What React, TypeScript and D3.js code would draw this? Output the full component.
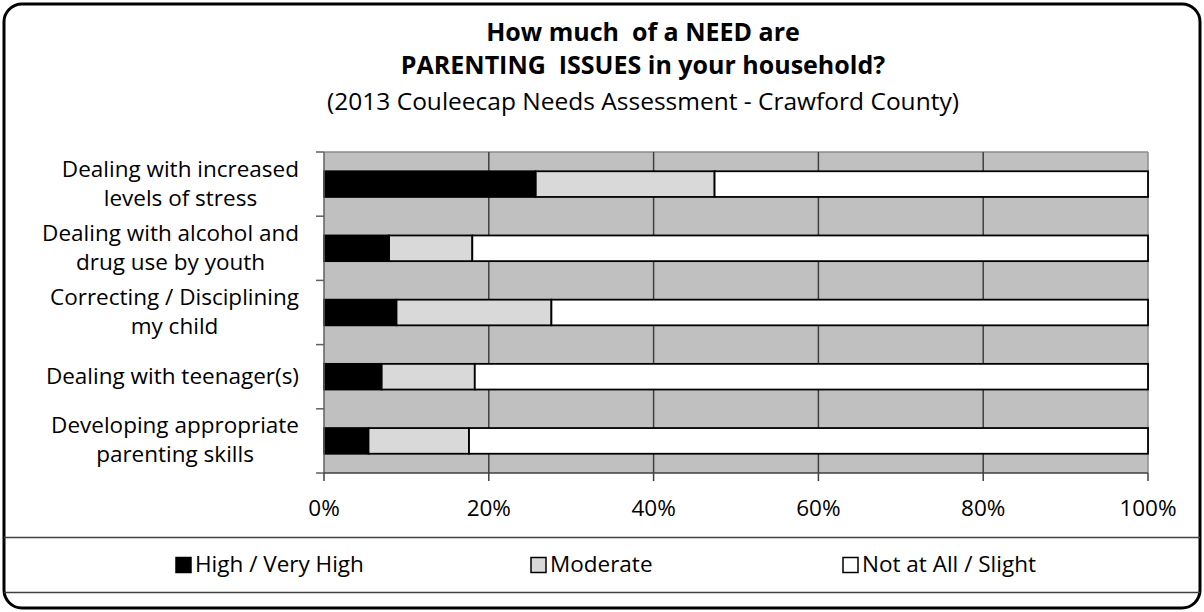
import React from "react";
import * as d3 from "d3";

const categories = [
  ["Dealing with increased", "levels of stress"],
  ["Dealing with alcohol and", "drug use by youth"],
  ["Correcting / Disciplining", "my child"],
  ["Dealing with teenager(s)"],
  ["Developing appropriate", "parenting skills"],
];
const seriesNames = ["High / Very High", "Moderate", "Not at All / Slight"];
const highValues = [25.7, 7.9, 8.8, 7.0, 5.4];
const moderateValues = [21.7, 10.1, 18.8, 11.3, 12.2];
const notValues = [52.6, 82.0, 72.4, 81.7, 82.4];
const xTicks = [0, 20, 40, 60, 80, 100];
const titleLines = ["How much  of a NEED are", "PARENTING  ISSUES in your household?"];
const subtitle = "(2013 Couleecap Needs Assessment - Crawford County)";

const colors = ["#000000", "#d9d9d9", "#ffffff"];
const FONT = "'Open Sans', Lato, sans-serif";

let ctx: CanvasRenderingContext2D | null = null;
function measure(text: string, font: string) {
  if (!ctx) ctx = document.createElement("canvas").getContext("2d");
  if (!ctx) return text.length * 9;
  ctx.font = font;
  return ctx.measureText(text).width;
}

export default function App() {
  const W = 1204;
  const H = 612;
  const left = 324;
  const right = 1148;
  const top = 152;
  const bottom = 473;

  const x = d3.scaleLinear().domain([0, 100]).range([left, right]);
  const y = d3
    .scaleBand<number>()
    .domain(d3.range(categories.length))
    .range([top, bottom])
    .paddingInner(0.6)
    .paddingOuter(0.3);
  const band = (bottom - top) / categories.length;

  const stacked = categories.map((_, i) => {
    const vals = [highValues[i], moderateValues[i], notValues[i]];
    let acc = 0;
    return vals.map((v, k) => {
      const s = { x0: acc, x1: acc + v, k };
      acc += v;
      return s;
    });
  });

  const fs = 22.5;
  const labelFont = `${fs}px ${FONT}`;
  const cx = 643;

  return (
    <svg width={W} height={H} style={{ position: "absolute", left: 0, top: 0 }} fontFamily={FONT}>
      <rect x={0} y={0} width={W} height={H} fill="#fff" />
      <rect x={4} y={4} width={1196} height={604} rx={18} fill="#fff" stroke="#000" strokeWidth={3} />

      {/* title */}
      <text x={cx} y={41} textAnchor="middle" fontSize={25} fontWeight="bold" fill="#000" style={{ whiteSpace: "pre" }}>
        {titleLines[0]}
      </text>
      <text x={cx} y={74} textAnchor="middle" fontSize={25} fontWeight="bold" fill="#000" style={{ whiteSpace: "pre" }}>
        {titleLines[1]}
      </text>
      <text x={cx} y={110} textAnchor="middle" fontSize={24.5} fill="#000">
        {subtitle}
      </text>

      {/* plot area */}
      <rect x={left} y={top} width={right - left} height={bottom - top} fill="#c0c0c0" />
      <line x1={left} x2={right} y1={top} y2={top} stroke="#8c8c8c" strokeWidth={1.5} />
      <line x1={right} x2={right} y1={top} y2={bottom} stroke="#8c8c8c" strokeWidth={1.5} />
      {xTicks.slice(1, -1).map((t) => (
        <line key={t} x1={x(t)} x2={x(t)} y1={top} y2={bottom} stroke="#404040" strokeWidth={1.5} />
      ))}

      {/* bars */}
      {stacked.map((segs, i) =>
        segs.map((s) => (
          <rect
            key={`${i}-${s.k}`}
            x={x(s.x0)}
            y={y(i)!}
            width={x(s.x1) - x(s.x0)}
            height={y.bandwidth()}
            fill={colors[s.k]}
            stroke="#000"
            strokeWidth={1.8}
          />
        ))
      )}

      {/* axes */}
      <line x1={left} x2={left} y1={top} y2={bottom} stroke="#606060" strokeWidth={1.5} />
      {d3.range(categories.length + 1).map((i) => (
        <line key={i} x1={left - 8} x2={left} y1={top + i * band} y2={top + i * band} stroke="#606060" strokeWidth={1.5} />
      ))}
      <line x1={left} x2={right} y1={bottom} y2={bottom} stroke="#404040" strokeWidth={1.5} />
      {xTicks.map((t) => (
        <g key={t}>
          <line x1={x(t)} x2={x(t)} y1={bottom} y2={bottom + 8} stroke="#404040" strokeWidth={1.5} />
          <text x={x(t)} y={516} textAnchor="middle" fontSize={fs} fill="#000">
            {t}%
          </text>
        </g>
      ))}

      {/* category labels */}
      {categories.map((lines, i) => {
        const maxW = Math.max(...lines.map((l) => measure(l, labelFont)));
        const lx = 299 - maxW / 2;
        const cy = y(i)! + y.bandwidth() / 2;
        const lh = 29;
        const y0 = cy - ((lines.length - 1) * lh) / 2;
        return (
          <text key={i} textAnchor="middle" fontSize={fs} fill="#000">
            {lines.map((l, j) => (
              <tspan key={j} x={lx} y={y0 + j * lh + 7}>
                {l}
              </tspan>
            ))}
          </text>
        );
      })}

      {/* legend */}
      <line x1={4} x2={1200} y1={537.5} y2={537.5} stroke="#404040" strokeWidth={1.5} />
      <line x1={4} x2={1200} y1={592.5} y2={592.5} stroke="#404040" strokeWidth={1.5} />
      {seriesNames.map((n, k) => {
        const lx = [175, 530, 842][k];
        return (
          <g key={n}>
            <rect x={lx + 1} y={557.5} width={15} height={15} fill={colors[k]} stroke="#000" strokeWidth={1.5} />
            <text x={lx + 20} y={572} fontSize={fs} fill="#000">
              {n}
            </text>
          </g>
        );
      })}
    </svg>
  );
}
